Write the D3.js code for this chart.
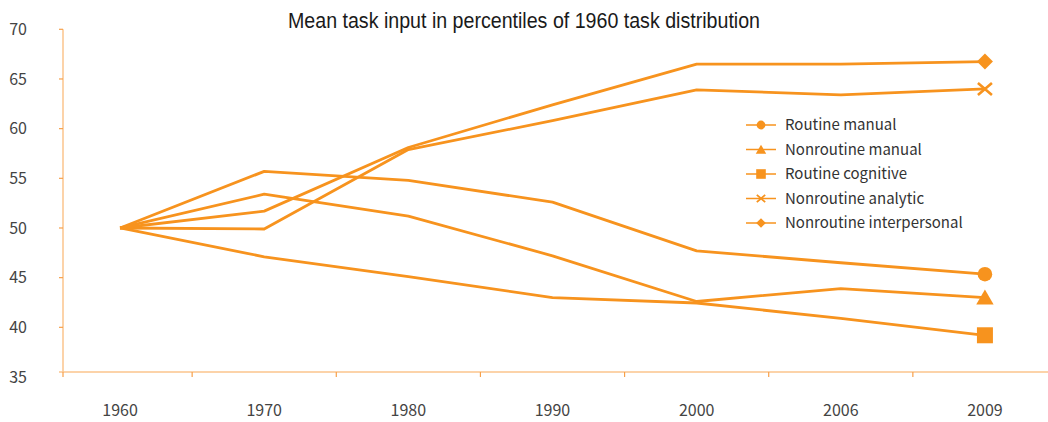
<!DOCTYPE html>
<html>
<head>
<meta charset="utf-8">
<script src="https://cdn.jsdelivr.net/npm/d3@7"></script>
<style>
  body { margin: 0; background: #fff; }
  svg { display: block; }
</style>
</head>
<body>
<div id="chart"></div>
<script>
// values
const years = ["1960", "1970", "1980", "1990", "2000", "2006", "2009"];
const yTicks = [35, 40, 45, 50, 55, 60, 65, 70];

const routineManual = [50, 55.7, 54.8, 52.6, 47.7, 46.5, 45.35];
const nonroutineManual = [50, 53.4, 51.2, 47.2, 42.6, 43.9, 43.0];
const routineCognitive = [50, 47.1, 45.1, 43.0, 42.45, 40.9, 39.2];
const nonroutineAnalytic = [50, 49.9, 57.9, 60.8, 63.9, 63.4, 64.0];
const nonroutineInterpersonal = [50, 51.7, 58.1, 62.4, 66.5, 66.5, 66.75];

const seriesNames = ["Routine manual", "Nonroutine manual", "Routine cognitive", "Nonroutine analytic", "Nonroutine interpersonal"];
const seriesSymbols = ["circle", "triangle", "square", "cross", "diamond"];
const seriesValues = [routineManual, nonroutineManual, routineCognitive, nonroutineAnalytic, nonroutineInterpersonal];

const width = 1048, height = 422;
const orange = "#f7931e";
const axisColor = "#fbc58c";
const tickColor = "#f7a04a";
const labelFont = "'Noto Sans CJK KR', 'Open Sans', sans-serif";

const svg = d3.select("#chart").append("svg")
    .attr("width", width)
    .attr("height", height);

const x = d3.scalePoint()
    .domain(years)
    .range([48, 1057])
    .padding(0.5);

const y = d3.scaleLinear()
    .domain([35, 70])
    .range([377, 29.3]);

const baseY = 372; // x axis line sits a bit above the 35 mark

// title
svg.append("text")
    .attr("x", 524)
    .attr("y", 28)
    .attr("text-anchor", "middle")
    .style("font-family", "'Liberation Sans Narrow', 'Liberation Sans', Arial, sans-serif")
    .style("font-size", "22px")
    .style("fill", "#1a1a1a")
    .attr("textLength", 472)
    .attr("lengthAdjust", "spacingAndGlyphs")
    .text("Mean task input in percentiles of 1960 task distribution");

// y axis
const yAxis = svg.append("g");
yAxis.append("line")
    .attr("x1", 63).attr("x2", 63)
    .attr("y1", y(70)).attr("y2", baseY)
    .style("stroke", axisColor).style("stroke-width", 1.5);
yAxis.selectAll(".ytick")
    .data(yTicks.slice(1)).enter()
    .append("line")
    .attr("x1", 59).attr("x2", 63)
    .attr("y1", d => y(d)).attr("y2", d => y(d))
    .style("stroke", tickColor).style("stroke-width", 1.2);
yAxis.selectAll(".ylab")
    .data(yTicks).enter()
    .append("text")
    .attr("x", 27)
    .attr("y", d => y(d))
    .attr("dy", "0.35em")
    .attr("text-anchor", "end")
    .style("font-family", labelFont)
    .style("font-size", "16px")
    .style("fill", "#444")
    .text(d => d);

// x axis
const step = x.step();
const xAxis = svg.append("g");
xAxis.append("line")
    .attr("x1", 59).attr("x2", width)
    .attr("y1", baseY).attr("y2", baseY)
    .style("stroke", axisColor).style("stroke-width", 1.5);
xAxis.selectAll(".xtick")
    .data(years.slice(1)).enter()
    .append("line")
    .attr("x1", d => x(d) - step / 2).attr("x2", d => x(d) - step / 2)
    .attr("y1", baseY).attr("y2", baseY + 5)
    .style("stroke", tickColor).style("stroke-width", 1.2);
xAxis.append("line")
    .attr("x1", 63).attr("x2", 63)
    .attr("y1", baseY).attr("y2", baseY + 5)
    .style("stroke", tickColor).style("stroke-width", 1.2);
xAxis.selectAll(".xlab")
    .data(years).enter()
    .append("text")
    .attr("x", d => x(d))
    .attr("y", 410)
    .attr("dy", "0.35em")
    .attr("text-anchor", "middle")
    .style("font-family", labelFont)
    .style("font-size", "16px")
    .style("fill", "#444")
    .text(d => d);

// lines
const line = d3.line()
    .x((d, i) => x(years[i]))
    .y(d => y(d));

svg.append("g").selectAll("path")
    .data(seriesValues).enter()
    .append("path")
    .attr("d", line)
    .style("fill", "none")
    .style("stroke", orange)
    .style("stroke-width", 2.8)
    .style("stroke-linejoin", "round");

// markers
function drawMarker(g, type, cx, cy, s) {
    if (type == "circle") {
        g.append("circle").attr("cx", cx).attr("cy", cy).attr("r", 7.3 * s).style("fill", orange);
    } else if (type == "triangle") {
        g.append("path")
            .attr("d", `M${cx},${cy - 8 * s}L${cx + 8.7 * s},${cy + 7 * s}L${cx - 8.7 * s},${cy + 7 * s}Z`)
            .style("fill", orange);
    } else if (type == "square") {
        g.append("rect").attr("x", cx - 8 * s).attr("y", cy - 8 * s)
            .attr("width", 16 * s).attr("height", 16 * s).style("fill", orange);
    } else if (type == "cross") {
        g.append("path")
            .attr("d", `M${cx - 7 * s},${cy - 6 * s}L${cx + 7 * s},${cy + 6 * s}M${cx - 7 * s},${cy + 6 * s}L${cx + 7 * s},${cy - 6 * s}`)
            .style("stroke", orange).style("stroke-width", 2.6 * Math.max(s, 0.7)).style("fill", "none");
    } else {
        g.append("path")
            .attr("d", `M${cx},${cy - 8 * s}L${cx + 8 * s},${cy}L${cx},${cy + 8 * s}L${cx - 8 * s},${cy}Z`)
            .style("fill", orange);
    }
}

const markers = svg.append("g");
seriesValues.forEach((vals, i) => {
    const last = vals.length - 1;
    drawMarker(markers, seriesSymbols[i], x(years[last]), y(vals[last]), 1);
});

// legend
const legend = svg.append("g");
seriesNames.forEach((name, i) => {
    const ly = 125 + i * 24.5;
    legend.append("line")
        .attr("x1", 746).attr("x2", 776)
        .attr("y1", ly).attr("y2", ly)
        .style("stroke", orange).style("stroke-width", 1.5);
    drawMarker(legend, seriesSymbols[i], 761, ly, 0.6);
    legend.append("text")
        .attr("x", 785)
        .attr("y", ly)
        .attr("dy", "0.35em")
        .style("font-family", labelFont)
        .style("font-size", "15px")
        .style("fill", "#333")
        .text(name);
});
</script>
</body>
</html>
